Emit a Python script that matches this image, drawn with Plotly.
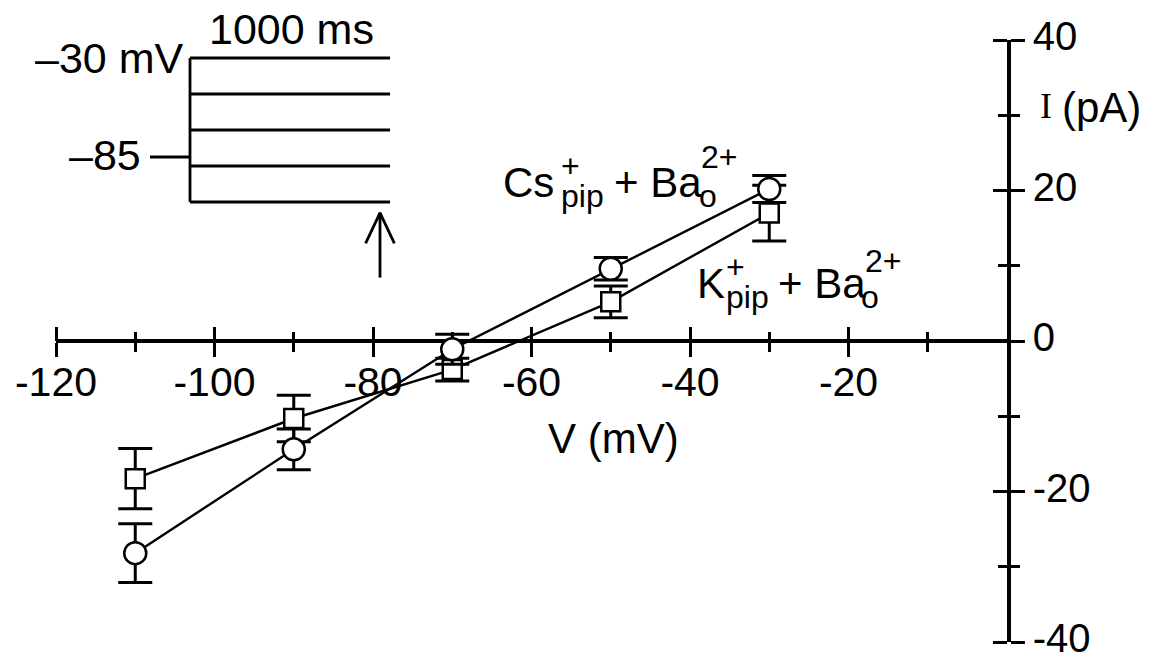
import plotly.graph_objects as go

# ---------------- data ----------------
V_MV = [-110, -90, -70, -50, -30]
I_CS = [-28.2, -14.4, -1.1, 9.6, 20.2]      # Cs+pip + Ba2+o  (circles)
ERR_CS = [3.9, 2.7, 2.0, 1.5, 1.8]
I_K = [-18.3, -10.3, -3.8, 5.2, 17.0]       # K+pip + Ba2+o   (squares)
ERR_K = [4.0, 3.1, 1.5, 2.1, 3.7]

X_MAJOR = [-120, -100, -80, -60, -40, -20]
X_MAJOR_TEXT = ["-120", "-100", "-80", "-60", "-40", "-20"]
X_MINOR = [-110, -90, -70, -50, -30, -10]
Y_MAJOR = [40, 20, 0, -20, -40]
Y_MAJOR_TEXT = ["40", "20", "0", "-20", "-40"]
Y_MINOR = [30, 10, -10, -30]

# inset: voltage-step protocol
STEP_V = [-30, -50, -70, -90, -110]
HOLD_V = -85
STEP_MS = 1000
HOLD_MS = 200
ARROW_T = 950
ARROW_TIP_V = -116
ARROW_TAIL_V = -152
ARROW_HEAD_V = -133
ARROW_HEAD_HALF_MS = 72

# ---------------- layout geometry ----------------
W, H = 1157, 660
L, R, T, B = 56, 150, 40, 18
PW, PH = W - L - R, H - T - B
FONT = "Liberation Sans, Arial, sans-serif"
SERIF = "Liberation Serif, Times New Roman, serif"


def paper(px, py):
    return (px - L) / PW, (H - B - py) / PH


fig = go.Figure()

# main data
for ys, es, sym, size in [(I_K, ERR_K, "square", 19), (I_CS, ERR_CS, "circle", 22)]:
    fig.add_trace(go.Scatter(
        x=V_MV, y=ys, mode="lines+markers",
        line=dict(color="black", width=2.4),
        marker=dict(symbol=sym, size=size, color="white", line=dict(color="black", width=2.5)),
        error_y=dict(type="data", array=es, visible=True, color="black", thickness=3, width=17),
        cliponaxis=False, showlegend=False, hoverinfo="skip",
    ))

# dummy traces so overlay axes (tick marks on the other side) are drawn
fig.add_trace(go.Scatter(x=[], y=[], xaxis="x2", yaxis="y", showlegend=False))
fig.add_trace(go.Scatter(x=[], y=[], xaxis="x", yaxis="y2", showlegend=False))

# inset protocol
sx, sy = [], []
for v in STEP_V:
    sx += [0, STEP_MS, None]
    sy += [v, v, None]
sx += [0, 0, None, -HOLD_MS, 0, None, ARROW_T, ARROW_T, None,
       ARROW_T - ARROW_HEAD_HALF_MS, ARROW_T, ARROW_T + ARROW_HEAD_HALF_MS]
sy += [min(STEP_V), max(STEP_V), None, HOLD_V, HOLD_V, None, ARROW_TAIL_V, ARROW_TIP_V, None,
       ARROW_HEAD_V, ARROW_TIP_V, ARROW_HEAD_V]
fig.add_trace(go.Scatter(x=sx, y=sy, mode="lines", line=dict(color="black", width=2.8),
                         xaxis="x3", yaxis="y3", showlegend=False, hoverinfo="skip",
                         cliponaxis=False))

tick_common = dict(tickcolor="black", tickwidth=3, showgrid=False, zeroline=False,
                   fixedrange=True, layer="below traces", automargin=False)
minor_common = dict(tickmode="array", ticks="outside", ticklen=9, tickwidth=3,
                    tickcolor="black", showgrid=False)

x3d = paper(130, 0)[0], paper(410, 0)[0]
y3d = paper(0, 310)[1], paper(0, 40)[1]

fig.update_layout(
    template="none",
    width=W, height=H, margin=dict(l=L, r=R, t=T, b=B, autoexpand=False),
    paper_bgcolor="white", plot_bgcolor="white", showlegend=False,
    font=dict(family=FONT, color="black", size=41),
    xaxis=dict(range=[-120, 0], domain=[0, 1], anchor="free", position=0.5, side="bottom",
               showline=True, linecolor="black", linewidth=3.5,
               tickmode="array", tickvals=X_MAJOR, ticktext=X_MAJOR_TEXT,
               ticks="outside", ticklen=14, minor=dict(tickvals=X_MINOR, **minor_common),
               tickfont=dict(size=41, family=FONT, color="black"), ticklabelstandoff=-10,
               ticklabeloverflow="allow", **tick_common),
    xaxis2=dict(range=[-120, 0], overlaying="x", anchor="free", position=0.5, side="top",
                showline=False, tickmode="array", tickvals=X_MAJOR, ticks="outside", ticklen=14,
                showticklabels=False, minor=dict(tickvals=X_MINOR, **minor_common),
                **tick_common),
    yaxis=dict(range=[-40, 40], domain=[0, 1], anchor="x", side="right",
               showline=True, linecolor="black", linewidth=3.5,
               tickmode="array", tickvals=Y_MAJOR, ticktext=Y_MAJOR_TEXT,
               ticks="outside", ticklen=14, minor=dict(tickvals=Y_MINOR, **minor_common),
               tickfont=dict(size=40, family=FONT, color="black"), ticklabelstandoff=0,
               ticklabelshift=-4, ticklabeloverflow="allow", **tick_common),
    yaxis2=dict(range=[-40, 40], overlaying="y", anchor="free", position=1.0, side="left",
                showline=False, tickmode="array", tickvals=Y_MAJOR, ticks="outside", ticklen=14,
                showticklabels=False, minor=dict(tickvals=Y_MINOR, **minor_common),
                **tick_common),
    xaxis3=dict(domain=list(x3d), range=[-300, 1100], anchor="y3", visible=False,
                fixedrange=True, automargin=False),
    yaxis3=dict(domain=list(y3d), range=[-170, -20], anchor="x3", visible=False,
                fixedrange=True, automargin=False),
)

ann = []
# label pieces: text, left px, center py, size
pieces = [
    ("Cs", 502, 183, 42), ("+", 560, 166, 32), ("pip", 560, 196, 32),
    ("+ Ba", 613, 183, 42), ("o", 698, 196, 32), ("2+", 700, 157, 32),
    ("K", 696, 283, 42), ("+", 725, 267, 32), ("pip", 725, 297, 32),
    ("+ Ba", 777, 283, 42), ("o", 860, 297, 32), ("2+", 864, 260.5, 32),
    ("(pA)", 1061, 108, 42),
]
for txt, px, py, sz in pieces:
    x, y = paper(px, py)
    ann.append(dict(text=txt, x=x, y=y, xref="paper", yref="paper", xanchor="left",
                    yanchor="middle", showarrow=False, font=dict(size=sz, family=FONT, color="black"),
                    borderpad=0))
x, y = paper(1039, 106)
ann.append(dict(text="I", x=x, y=y, xref="paper", yref="paper", xanchor="left", yanchor="middle",
                showarrow=False, font=dict(size=36, family=SERIF, color="black"), borderpad=0))
x, y = paper(613, 438)
ann.append(dict(text="V (mV)", x=x, y=y, xref="paper", yref="paper", xanchor="center",
                yanchor="middle", showarrow=False, font=dict(size=42, family=FONT, color="black")))
x, y = paper(291, 29)
ann.append(dict(text=f"{STEP_MS} ms", x=x, y=y, xref="paper", yref="paper", xanchor="center",
                yanchor="middle", showarrow=False, font=dict(size=43, family=FONT, color="black"),
                borderpad=0))
# inset labels (inset data coords)
ann.append(dict(text="\u201330 mV", x=-25, y=max(STEP_V), xref="x3", yref="y3", xanchor="right",
                yanchor="middle", showarrow=False, font=dict(size=43, family=FONT, color="black"),
                borderpad=0))
ann.append(dict(text="\u201385", x=-HOLD_MS - 40, y=HOLD_V + 1, xref="x3", yref="y3", xanchor="right",
                yanchor="middle", showarrow=False, font=dict(size=43, family=FONT, color="black"),
                borderpad=0))
fig.update_layout(annotations=ann)

fig.write_html("out.html", config={"displayModeBar": False})
